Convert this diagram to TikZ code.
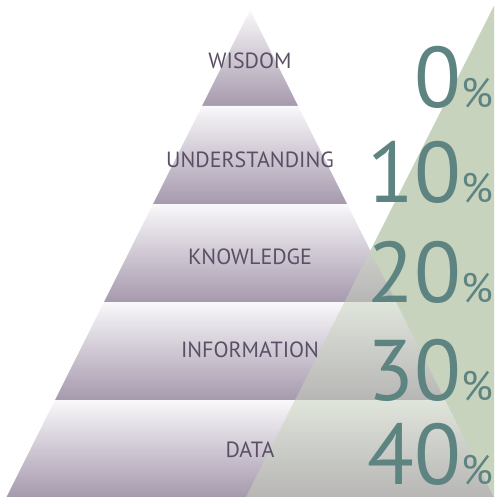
\documentclass[tikz,border=0pt]{standalone}
\usepackage{fontspec}
\setmainfont{PT Sans}
\usetikzlibrary{positioning}

\definecolor{layerTop}{HTML}{F9F8FA}
\definecolor{layerMid}{HTML}{CBC2CF}
\definecolor{layerBot}{HTML}{A699AD}
\definecolor{sage}{HTML}{C8D3BE}
\definecolor{labelInk}{HTML}{5A5066}
\definecolor{pctInk}{HTML}{5E8482}

\newcommand{\pct}[1]{{\fontsize{86}{86}\selectfont #1}{\fontsize{41}{41}\selectfont\%}}

\begin{document}
\begin{tikzpicture} [
    x=1pt, y=1pt,
    layer/.style={top color=layerTop, middle color=layerMid, bottom color=layerBot},
    level label/.style={text=labelInk, font=\fontsize{22}{22}\selectfont, inner sep=0pt},
    pct label/.style={text=pctInk, anchor=base east, inner sep=0pt, text depth=0pt}
  ]

  \useasboundingbox (0,0) rectangle (497,-497);

  % Background triangle
  \fill[sage] (494,-6) -- (494,-497) -- (246,-497) -- cycle;

  % Pyramid layers
  % LEVEL 5 (TOP)
  \shade[layer] (250,-10) -- (298,-106) -- (202,-106) -- cycle;
  % LEVEL 4
  \shade[layer] (202,-106) -- (298,-106) -- (347,-204) -- (153,-204) -- cycle;
  % LEVEL 3
  \shade[layer] (153,-204) -- (347,-204) -- (396,-302) -- (104,-302) -- cycle;
  % LEVEL 2
  \shade[layer] (104,-302) -- (396,-302) -- (445,-400) -- (55,-400) -- cycle;
  % LEVEL 1 (BOTTOM)
  \shade[layer] (55,-400) -- (445,-400) -- (493.5,-497) -- (6.5,-497) -- cycle;

  % Overlay triangle
  \fill[sage, fill opacity=0.5] (494,-6) -- (494,-497) -- (246,-497) -- cycle;

  % Labels
  \node[level label] (WISDOM) at (250,-61) {WISDOM};
  \node[level label] (UNDERSTANDING) at (250,-160) {UNDERSTANDING};
  \node[level label] (KNOWLEDGE) at (250,-257) {KNOWLEDGE};
  \node[level label] (INFORMATION) at (250,-350) {INFORMATION};
  \node[level label] (DATA) at (250,-450) {DATA};

  % Percentages
  \node[pct label] (P0) at (493,-108) {\pct{0}};
  \node[pct label] (P10) at (493,-202) {\pct{10}};
  \node[pct label] (P20) at (493,-302) {\pct{20}};
  \node[pct label] (P30) at (493,-400) {\pct{30}};
  \node[pct label] (P40) at (493,-484) {\pct{40}};

\end{tikzpicture}
\end{document}
